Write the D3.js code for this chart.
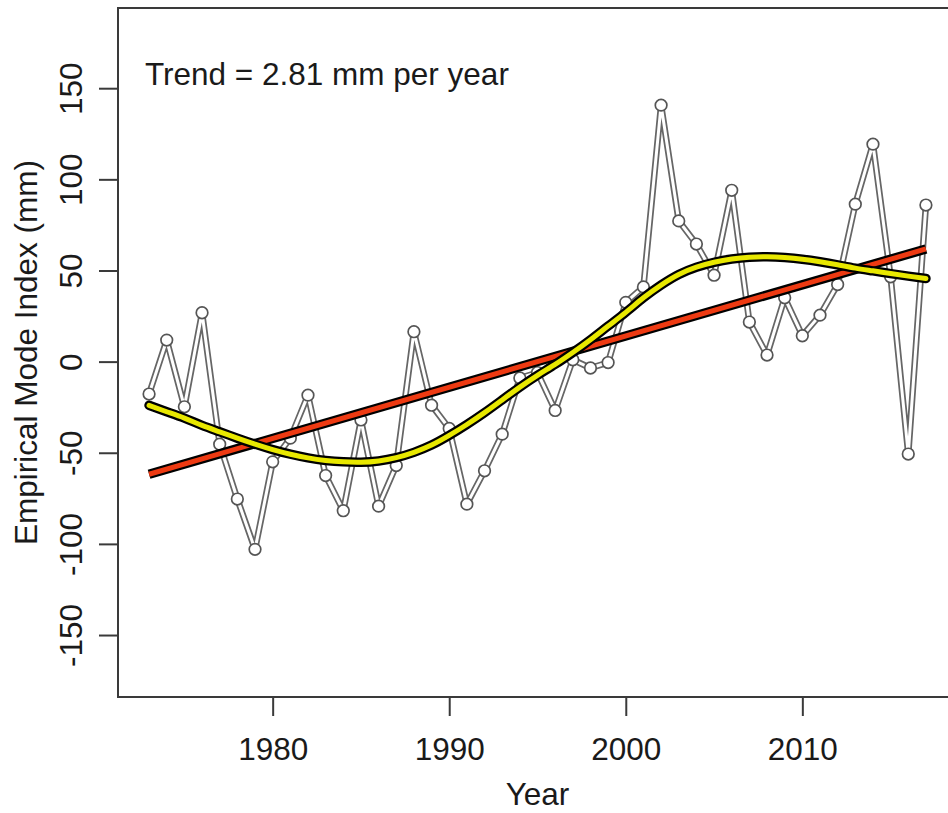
<!DOCTYPE html>
<html>
<head>
<meta charset="utf-8">
<script src="https://cdn.jsdelivr.net/npm/d3@7/dist/d3.min.js"></script>
<style>
  html, body { margin: 0; padding: 0; background: #fff; }
  svg { display: block; }
  text { font-family: "Liberation Sans", Arial, Helvetica, sans-serif; fill: #1a1a1a; }
</style>
</head>
<body>
<svg id="chart" width="948" height="813"></svg>
<script>
// ---- data ----
const years = d3.range(1973, 2018);
const values = [
  -17.8, 11.8, -24.8, 26.8, -45.3, -75.4, -103, -55, -42, -18.4,
  -62.5, -81.8, -32, -79.3, -57, 16.4, -23.9, -36.7, -78.2, -59.9,
  -39.8, -9, -6, -26.8, 1, -3.5, -0.5, 32.5, 41, 140.7,
  77.2, 64.5, 47.4, 94, 21.7, 3.6, 35, 14.2, 25.5, 42.3,
  86.4, 119.3, 46.5, -50.7, 85.9
];
const smoothValues = [
  -24, -27.5, -31, -35, -38.5, -42, -45.3, -48.3, -50.8, -52.8,
  -54.2, -55, -55.2, -54.5, -52.7, -49.8, -45.8, -40.5, -34.5, -28,
  -21, -14, -7.5, -1.5, 5, 12, 19.5, 27, 35, 42,
  47.8, 51.8, 54.5, 56.3, 57.3, 57.5, 57.1, 56.2, 54.8, 53.1,
  51.3, 49.8, 48.3, 46.9, 45.6
];
const trendYears = [1973, 2017];
const trendValues = [-61.8, 61.8];
const xTicks = [1980, 1990, 2000, 2010];
const yTicks = [-150, -100, -50, 0, 50, 100, 150];
const xDomain = [1971.24, 2018.76];
const yDomain = [-184, 194];
const trendLabel = "Trend = 2.81 mm per year";
const xTitle = "Year";
const yTitle = "Empirical Mode Index (mm)";

// ---- layout ----
const svg = d3.select("#chart");
const pL = 118, pR = 957, pT = 8, pB = 697;
const fs = 31.5;
const fmt = d => String(d);

const x = d3.scaleLinear().domain(xDomain).range([pL, pR]);
const y = d3.scaleLinear().domain(yDomain).range([pB, pT]);

// axes
const xAxis = svg.append("g")
  .attr("transform", `translate(0,${pB})`)
  .call(d3.axisBottom(x).tickValues(xTicks).tickFormat(fmt).tickSize(19).tickPadding(22));
xAxis.select(".domain").remove();
xAxis.selectAll(".tick line").attr("stroke", "#3a3a3a").attr("stroke-width", 2);
xAxis.selectAll(".tick text").attr("font-size", fs).attr("fill", "#1a1a1a")
  .style("font-family", "'Liberation Sans', Arial, sans-serif");

const yAxis = svg.append("g")
  .attr("transform", `translate(${pL},0)`)
  .call(d3.axisLeft(y).tickValues(yTicks).tickFormat(fmt).tickSize(19));
yAxis.select(".domain").remove();
yAxis.selectAll(".tick line").attr("stroke", "#3a3a3a").attr("stroke-width", 2);
yAxis.selectAll(".tick text")
  .attr("x", null).attr("dy", null)
  .attr("transform", "translate(-36,0) rotate(-90)")
  .attr("text-anchor", "middle")
  .attr("font-size", fs).attr("fill", "#1a1a1a")
  .style("font-family", "'Liberation Sans', Arial, sans-serif");

// box
svg.append("rect")
  .attr("x", pL).attr("y", pT)
  .attr("width", pR - pL).attr("height", pB - pT)
  .attr("fill", "none").attr("stroke", "#3a3a3a").attr("stroke-width", 2);

// titles
svg.append("text").attr("x", (pL + pR) / 2).attr("y", 805)
  .attr("text-anchor", "middle").attr("font-size", fs).text(xTitle);
svg.append("text")
  .attr("transform", `translate(37,${(pT + pB) / 2}) rotate(-90)`)
  .attr("text-anchor", "middle").attr("font-size", fs).text(yTitle);
svg.append("text").attr("x", 145).attr("y", 85)
  .attr("font-size", fs).text(trendLabel);

// data line (hollow gray)
const pts = years.map((yr, i) => [yr, values[i]]);
const line = d3.line().x(d => x(d[0])).y(d => y(d[1]));
svg.append("path").attr("d", line(pts))
  .attr("fill", "none").attr("stroke", "#666").attr("stroke-width", 6.5).attr("stroke-linejoin", "round");
svg.append("path").attr("d", line(pts))
  .attr("fill", "none").attr("stroke", "#ffffff").attr("stroke-width", 3).attr("stroke-linejoin", "round");
svg.append("g").selectAll("circle").data(pts).join("circle")
  .attr("cx", d => x(d[0])).attr("cy", d => y(d[1])).attr("r", 5.8)
  .attr("fill", "#fff").attr("stroke", "#555").attr("stroke-width", 1.7);

// trend line
const tpts = trendYears.map((yr, i) => [yr, trendValues[i]]);
svg.append("path").attr("d", line(tpts)).attr("fill", "none")
  .attr("stroke", "#000").attr("stroke-width", 9.5);
svg.append("path").attr("d", line(tpts)).attr("fill", "none")
  .attr("stroke", "#ee3a12").attr("stroke-width", 5);

// smooth curve
const spts = years.map((yr, i) => [yr, smoothValues[i]]);
const curve = d3.line().x(d => x(d[0])).y(d => y(d[1])).curve(d3.curveNatural);
svg.append("path").attr("d", curve(spts)).attr("fill", "none")
  .attr("stroke", "#000").attr("stroke-width", 9.5).attr("stroke-linecap", "round");
svg.append("path").attr("d", curve(spts)).attr("fill", "none")
  .attr("stroke", "#e8e800").attr("stroke-width", 5).attr("stroke-linecap", "round");
</script>
</body>
</html>
